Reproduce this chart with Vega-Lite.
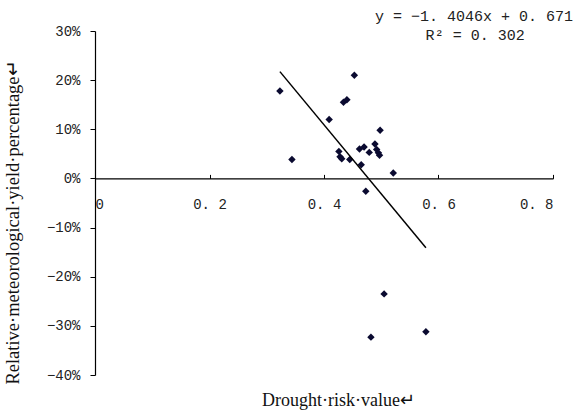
{
  "$schema": "https://vega.github.io/schema/vega-lite/v6.json",
  "width": 458,
  "height": 344,
  "autosize": "none",
  "padding": {"left": 95, "top": 31, "right": 27, "bottom": 38},
  "background": "white",
  "config": {"view": {"stroke": null}},
  "datasets": {
    "pts": [
      {"risk": 0.323, "yield": 0.178},
      {"risk": 0.344, "yield": 0.0385},
      {"risk": 0.453, "yield": 0.21},
      {"risk": 0.434, "yield": 0.155},
      {"risk": 0.44, "yield": 0.16},
      {"risk": 0.409, "yield": 0.12},
      {"risk": 0.498, "yield": 0.098},
      {"risk": 0.489, "yield": 0.07},
      {"risk": 0.426, "yield": 0.055},
      {"risk": 0.428, "yield": 0.044},
      {"risk": 0.431, "yield": 0.04},
      {"risk": 0.445, "yield": 0.0385},
      {"risk": 0.462, "yield": 0.06},
      {"risk": 0.47, "yield": 0.064},
      {"risk": 0.479, "yield": 0.053},
      {"risk": 0.492, "yield": 0.059},
      {"risk": 0.495, "yield": 0.052},
      {"risk": 0.497, "yield": 0.047},
      {"risk": 0.465, "yield": 0.028},
      {"risk": 0.521, "yield": 0.011},
      {"risk": 0.473, "yield": -0.026},
      {"risk": 0.505, "yield": -0.235},
      {"risk": 0.482, "yield": -0.323},
      {"risk": 0.578, "yield": -0.312}
    ],
    "fit": [
      {"risk": 0.323, "yield": 0.2173},
      {"risk": 0.578, "yield": -0.1409}
    ],
    "notes": [
      {"risk": 0.662, "yield": 0.3305, "label": "y = −1. 4046x + 0. 671"},
      {"risk": 0.664, "yield": 0.292, "label": "R² = 0. 302"}
    ]
  },
  "layer": [
    {
      "data": {"name": "pts"},
      "mark": {"type": "point", "shape": "diamond", "filled": true, "color": "#0a0a30", "size": 55, "opacity": 1},
      "encoding": {
        "x": {
          "field": "risk", "type": "quantitative",
          "scale": {"domain": [0, 0.8], "nice": false, "zero": false},
          "axis": {
            "values": [0, 0.2, 0.4, 0.6, 0.8],
            "offset": -196.6,
            "grid": false,
            "domainColor": "black",
            "domainWidth": 1.2,
            "tickColor": "black",
            "tickSize": -4,
            "labelPadding": 23,
            "labelFont": "Liberation Mono",
            "labelFontSize": 14,
            "labelColor": "#222",
            "labelExpr": "datum.value == 0 ? '0' : replace(format(datum.value, '.1f'), '.', '. ')",
            "title": "Drought·risk·value↵",
            "titleFont": "Liberation Serif",
            "titleFontSize": 18,
            "titleFontWeight": "normal",
            "titleColor": "#111",
            "titleX": 243,
            "titleY": 222,
            "titleBaseline": "middle",
            "titleAlign": "center"
          }
        },
        "y": {
          "field": "yield", "type": "quantitative",
          "scale": {"domain": [-0.4, 0.3], "nice": false, "zero": false},
          "axis": {
            "values": [-0.4, -0.3, -0.2, -0.1, 0, 0.1, 0.2, 0.3],
            "format": ".0%",
            "grid": false,
            "domainColor": "black",
            "domainWidth": 1.2,
            "tickColor": "black",
            "tickSize": 5,
            "labelPadding": 10,
            "labelFont": "Liberation Mono",
            "labelFontSize": 14,
            "labelColor": "#222",
            "title": "Relative·meteorological·yield·percentage↵",
            "titleFont": "Liberation Serif",
            "titleFontSize": 18.5,
            "titleFontWeight": "normal",
            "titleColor": "#111",
            "titleAngle": 270,
            "titleX": -83,
            "titleY": 191,
            "titleBaseline": "middle",
            "titleAlign": "center"
          }
        }
      }
    },
    {
      "data": {"name": "fit"},
      "mark": {"type": "line", "color": "black", "strokeWidth": 1.5},
      "encoding": {
        "x": {"field": "risk", "type": "quantitative"},
        "y": {"field": "yield", "type": "quantitative"}
      }
    },
    {
      "data": {"name": "notes"},
      "mark": {"type": "text", "font": "Liberation Mono", "fontSize": 15, "color": "#222", "align": "center", "baseline": "middle"},
      "encoding": {
        "x": {"field": "risk", "type": "quantitative"},
        "y": {"field": "yield", "type": "quantitative"},
        "text": {"field": "label"}
      }
    }
  ]
}
